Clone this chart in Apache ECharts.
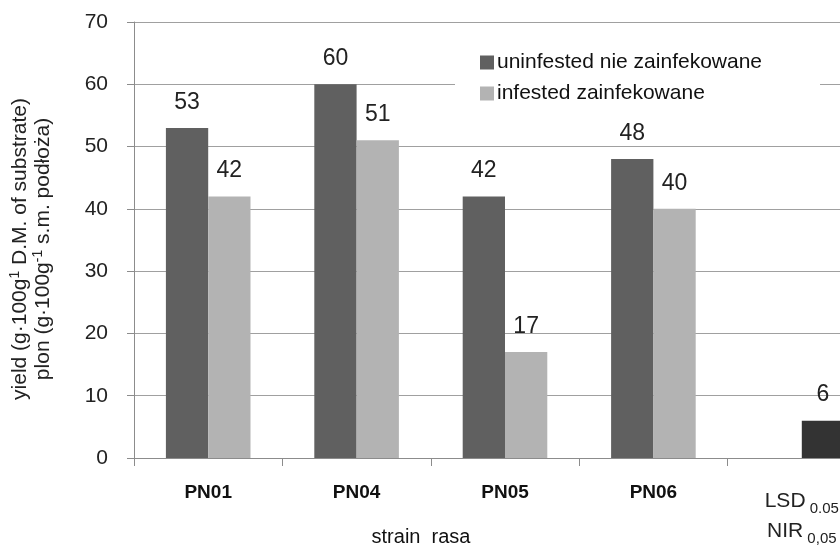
<!DOCTYPE html>
<html>
<head>
<meta charset="utf-8">
<script src="https://cdn.jsdelivr.net/npm/echarts@6/dist/echarts.min.js"></script>
<style>
  html, body { margin: 0; padding: 0; background: #fff; overflow: hidden; }
  /* the plot runs past the right edge of the page, so the canvas is wider than the view */
  #chart { width: 880px; height: 549px; }
</style>
</head>
<body>
<div id="chart"></div>
<script>
// Yield by strain, uninfested vs infested, plus the LSD bar
const categories = ['PN01', 'PN04', 'PN05', 'PN06', 'LSD'];
const uninfested = [53, 60, 42, 48, null];
const infested = [42, 51, 17, 40, null];
const lsd = [null, null, null, null, 6];
const yTicks = { min: 0, max: 70, interval: 10 };

const FONT = 'Liberation Sans';
const chart = echarts.init(document.getElementById('chart'), null, { renderer: 'canvas' });

const barLabel = {
  show: true,
  position: 'top',
  distance: 14,
  fontFamily: FONT,
  fontSize: 23,
  color: '#222',
  formatter: p => (p.value == null ? '' : String(p.value))
};

const GAP = '43%';

chart.setOption({
  animation: false,
  backgroundColor: '#fff',
  textStyle: { fontFamily: FONT },
  grid: { left: 134, top: 22, width: 742, height: 436, containLabel: false },
  legend: {
    data: ['uninfested nie zainfekowane', 'infested zainfekowane'],
    orient: 'vertical',
    left: 455,
    top: 44,
    padding: [8, 58, 8, 25],
    backgroundColor: '#fff',
    itemWidth: 14,
    itemHeight: 14,
    itemGap: 10,
    icon: 'rect',
    textStyle: { fontFamily: FONT, fontSize: 21, color: '#111', padding: [0, 0, 0, -2] }
  },
  xAxis: {
    type: 'category',
    data: categories,
    axisLine: { lineStyle: { color: '#8c8c8c', width: 1 } },
    axisTick: { show: true, length: 8, lineStyle: { color: '#8c8c8c' } },
    axisLabel: {
      margin: 24,
      verticalAlign: 'top',
      fontFamily: FONT,
      fontSize: 19,
      color: '#111',
      interval: 0,
      formatter: v => v === 'LSD'
        ? '{a|LSD}{s| 0.05}\n{a|NIR}{s| 0,05}'
        : '{p|' + v + '}',
      rich: {
        p: { fontFamily: FONT, fontSize: 19, fontWeight: 'bold', color: '#111', lineHeight: 22 },
        a: { fontFamily: FONT, fontSize: 21, fontWeight: 'normal', color: '#222', lineHeight: 30, verticalAlign: 'bottom' },
        s: { fontFamily: FONT, fontSize: 15, fontWeight: 'normal', color: '#222', lineHeight: 30, verticalAlign: 'bottom', padding: [0, 0, -4, 0] }
      }
    }
  },
  yAxis: {
    type: 'value',
    min: yTicks.min,
    max: yTicks.max,
    interval: yTicks.interval,
    axisLine: { show: true, lineStyle: { color: '#8c8c8c', width: 1 } },
    axisTick: { show: true, length: 7, lineStyle: { color: '#8c8c8c' } },
    axisLabel: { margin: 26, fontFamily: FONT, fontSize: 21, color: '#222' },
    splitLine: { show: true, lineStyle: { color: '#a0a0a0', width: 1 } }
  },
  series: [
    {
      name: 'uninfested nie zainfekowane',
      type: 'bar',
      data: uninfested,
      barGap: '0%',
      barCategoryGap: GAP,
      itemStyle: { color: '#606060' },
      label: barLabel
    },
    {
      name: 'infested zainfekowane',
      type: 'bar',
      stack: 'right',
      data: infested,
      barCategoryGap: GAP,
      itemStyle: { color: '#b3b3b3' },
      label: barLabel
    },
    {
      name: 'LSD',
      type: 'bar',
      stack: 'right',
      data: lsd,
      barCategoryGap: GAP,
      itemStyle: { color: '#333333' },
      label: barLabel
    }
  ],
  graphic: [
    {
      type: 'text',
      x: 20, y: 249,
      rotation: Math.PI / 2,
      style: {
        text: '{n|yield (g·100g}{u|1}{n| D.M. of substrate)}',
        align: 'center',
        verticalAlign: 'middle',
        rich: {
          n: { fontFamily: FONT, fontSize: 21, fill: '#222', lineHeight: 24 },
          u: { fontFamily: FONT, fontSize: 14, fill: '#222', lineHeight: 24, verticalAlign: 'top', padding: [0, 0, 7, 0] }
        }
      }
    },
    {
      type: 'text',
      x: 43, y: 249,
      rotation: Math.PI / 2,
      style: {
        text: '{n|plon (g·100g}{u|-1}{n| s.m. podłoża)}',
        align: 'center',
        verticalAlign: 'middle',
        rich: {
          n: { fontFamily: FONT, fontSize: 21, fill: '#222', lineHeight: 24 },
          u: { fontFamily: FONT, fontSize: 14, fill: '#222', lineHeight: 24, verticalAlign: 'top', padding: [0, 0, 7, 0] }
        }
      }
    },
    {
      type: 'text',
      x: 421, y: 537,
      style: {
        text: 'strain  rasa',
        align: 'center',
        verticalAlign: 'middle',
        fontFamily: FONT,
        fontSize: 20,
        fill: '#111'
      }
    }
  ]
});
</script>
</body>
</html>
